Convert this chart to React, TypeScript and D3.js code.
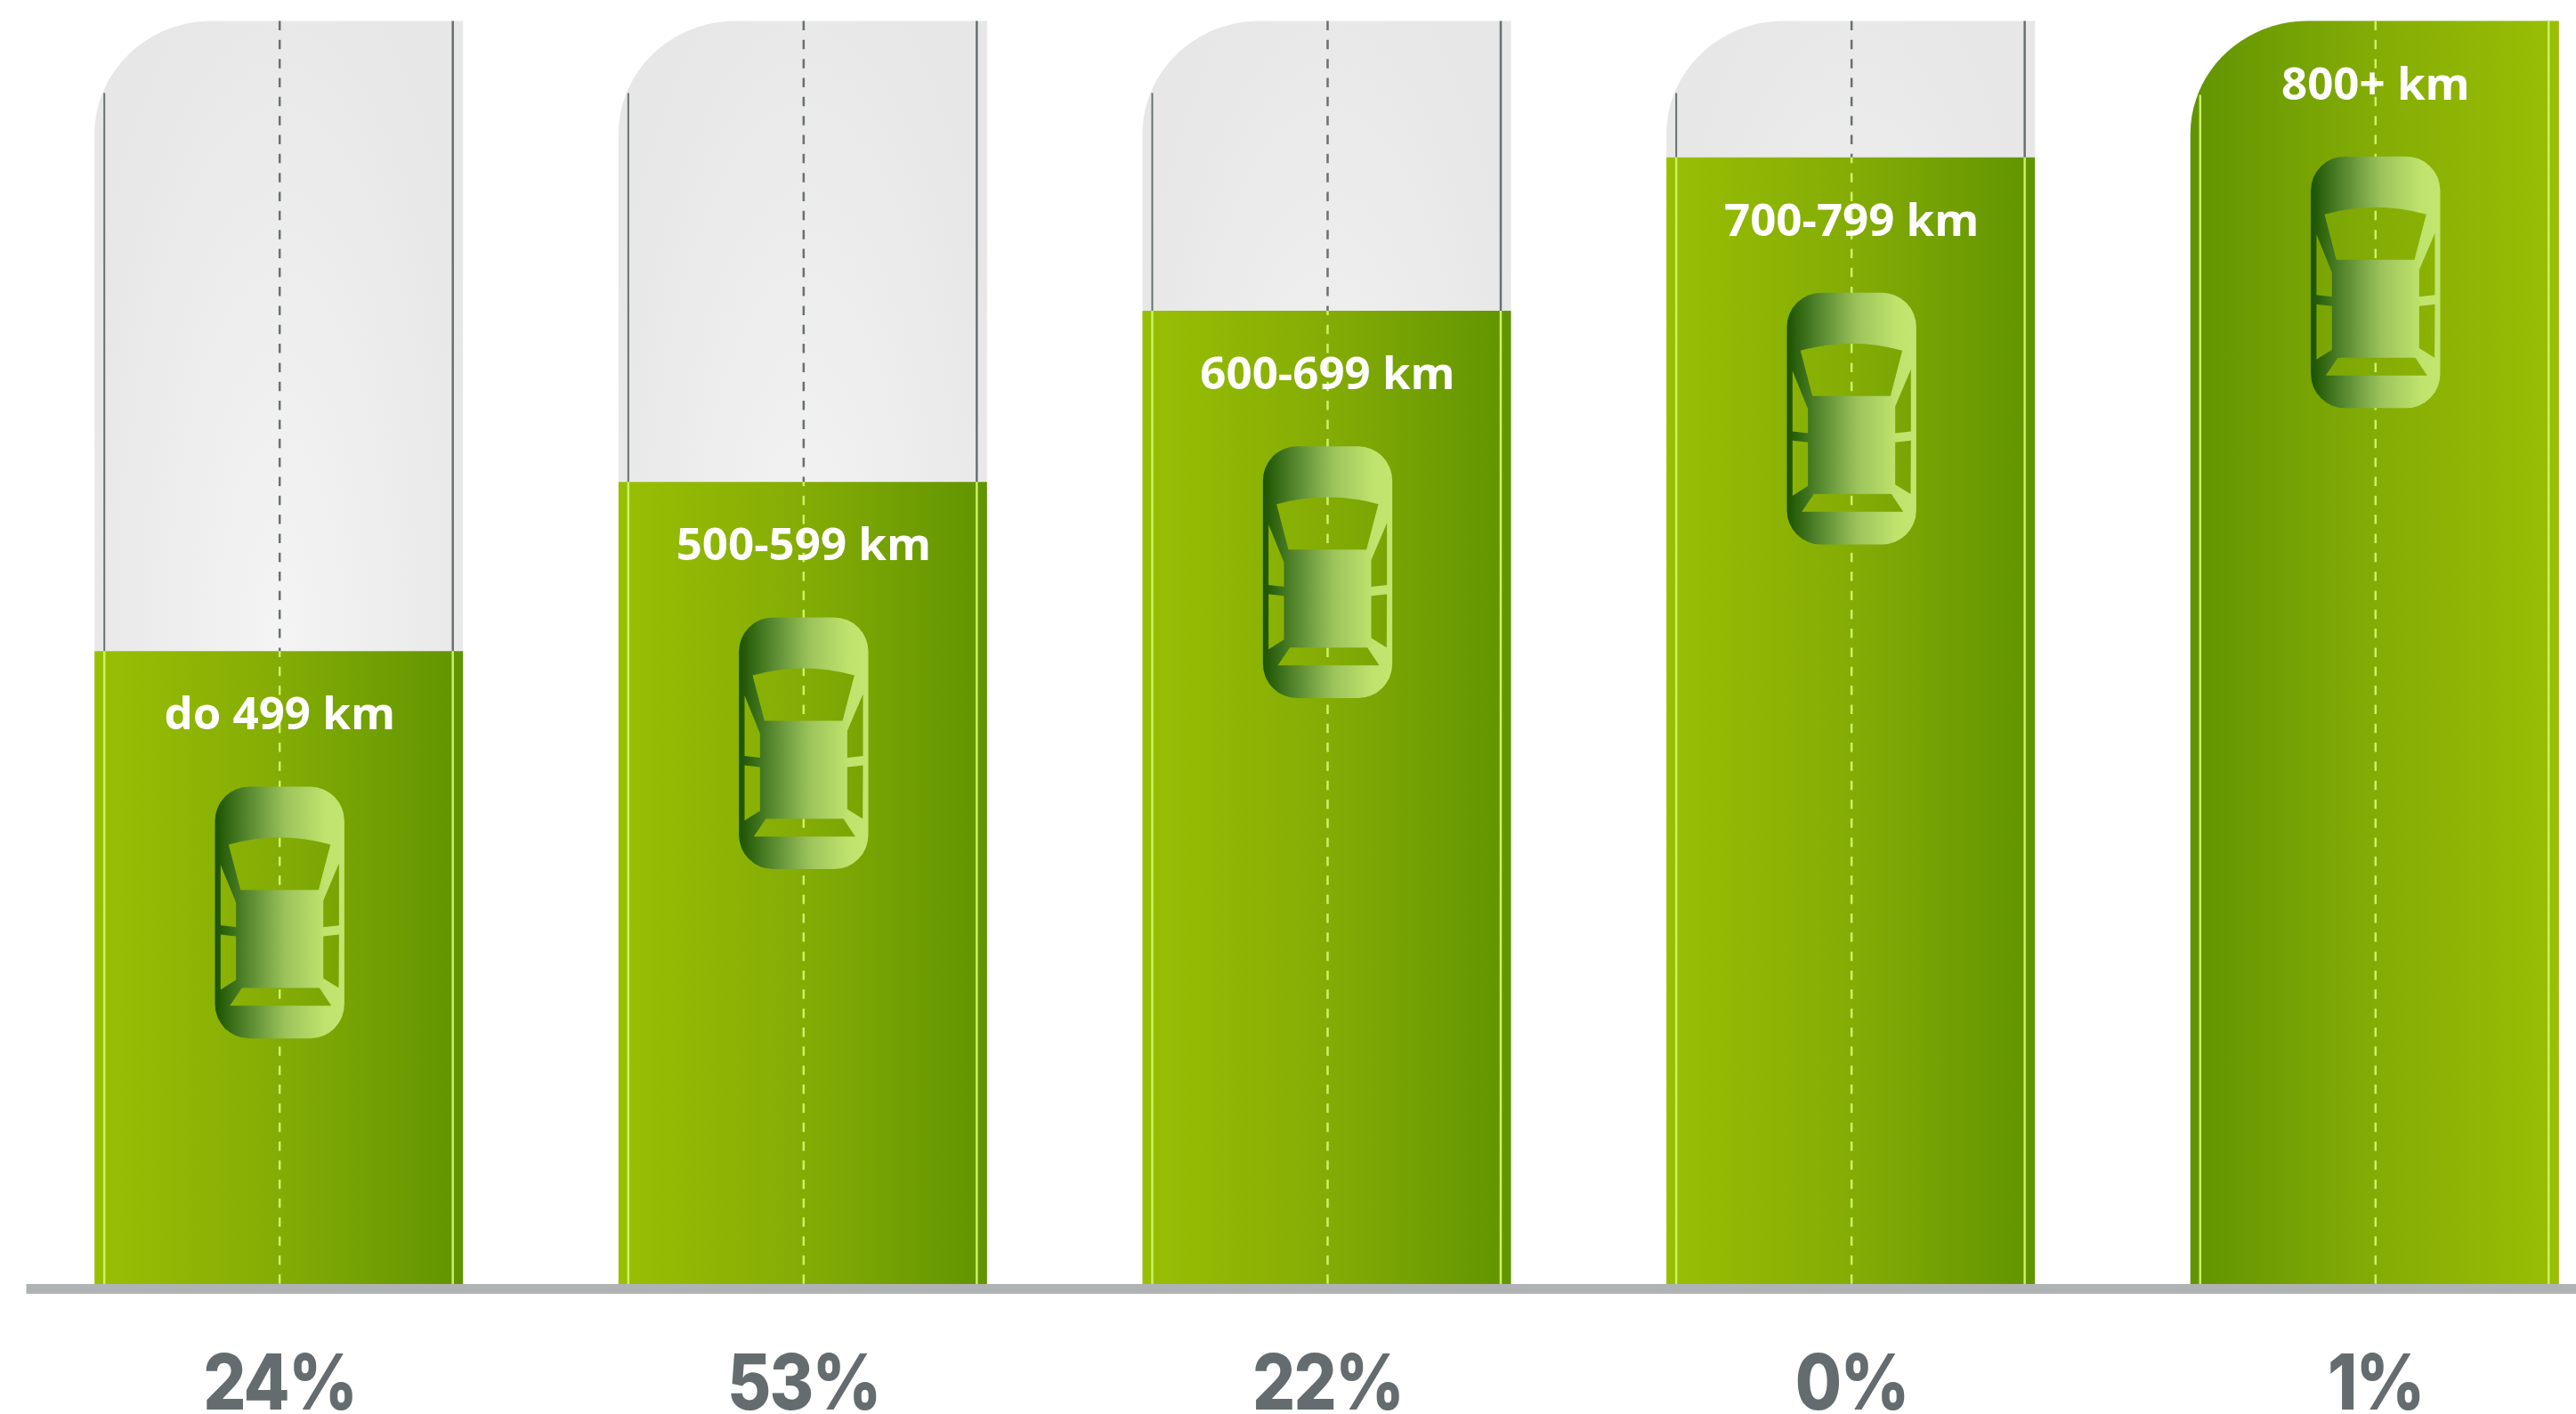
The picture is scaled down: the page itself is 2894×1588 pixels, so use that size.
import React from "react";
import * as d3 from "d3";

// Range bands of the chart, in reading order
const rangeLabels = ["do 499 km", "500-599 km", "600-699 km", "700-799 km", "800+ km"];
const shareLabels = ["24%", "53%", "22%", "0%", "1%"];
// How far each road is filled, on a 0-100 scale
const fillLevels = [50.1, 63.5, 77.05, 89.2, 100];
// The last road has its green gradient running the other way
const mirrored = [false, false, false, false, true];

const W = 2894, H = 1588;
const BASE_Y = 1442, TOP_Y = 23.5;
const HALF_L = 208, HALF_R = 206;

const x = d3.scalePoint<number>().domain(d3.range(5)).range([314.2, 2668.8]);
const y = d3.scaleLinear().domain([0, 100]).range([BASE_Y, TOP_Y]);

// Road silhouette with a single rounded upper-left corner
function roadPath(left: number, right: number, top: number, rounded: boolean) {
  const p = d3.path();
  if (rounded) {
    p.moveTo(left, BASE_Y);
    p.lineTo(left, top + 127);
    p.bezierCurveTo(left, top + 57, left + 59, top, left + 132, top);
  } else {
    p.moveTo(left, BASE_Y);
    p.lineTo(left, top);
  }
  p.lineTo(right, top);
  p.lineTo(right, BASE_Y);
  p.closePath();
  return p.toString();
}

// Car seen from above; body outline plus cut-out windows, drawn around its own centre (3x units)
const CAR_BODY =
  "M-218,-309 A115,115 0 0 1 -103,-424 L103,-424 A115,115 0 0 1 218,-309 L218,309 A115,115 0 0 1 103,424 L-103,424 A115,115 0 0 1 -218,309 Z";
const CAR_WINDOWS = [
  "M-172,-229 Q0,-277 171,-229 L131,-76 L-132,-76 Z",
  "M-199,-161 L-147,-33 L-147,49 L-199,43 Z",
  "M-199,74 L-147,80 L-147,227 L-199,260 Z",
  "M200,-166 L147,-41 L147,49 L200,43 Z",
  "M200,74 L147,80 L147,222 L199,254 Z",
  "M-127,254 L134,254 L174,314 L-168,314 Z",
].join(" ");

const STRIPE = "#c9f266";
const ROAD_LINE = "#687072";
const DASH_PERIOD = 21.33;

export default function App() {
  return (
    <svg
      width={W}
      height={H}
      viewBox={`0 0 ${W} ${H}`}
      style={{ position: "absolute", left: 0, top: 0, background: "#fff" }}
    >
      <defs>
        <linearGradient id="road-green" x1="0" x2="1" y1="0" y2="0">
          <stop offset="0" stopColor="#99bf03" />
          <stop offset="0.5" stopColor="#84ac05" />
          <stop offset="1" stopColor="#619401" />
        </linearGradient>
        <linearGradient id="road-green-rev" x1="0" x2="1" y1="0" y2="0">
          <stop offset="0" stopColor="#619401" />
          <stop offset="0.5" stopColor="#84ac05" />
          <stop offset="1" stopColor="#99bf03" />
        </linearGradient>
        <linearGradient id="car-body" x1="0" x2="1" y1="0" y2="0">
          <stop offset="0" stopColor="#1b5200" />
          <stop offset="0.27" stopColor="#5a8b32" />
          <stop offset="0.55" stopColor="#9dc45c" />
          <stop offset="0.85" stopColor="#bfe36d" />
          <stop offset="1" stopColor="#c2e56f" />
        </linearGradient>
        {fillLevels.map((_, i) => (
          <radialGradient
            key={i}
            id={`road-grey-${i}`}
            gradientUnits="userSpaceOnUse"
            cx={x(i)}
            cy={730}
            r={800}
            gradientTransform={`translate(${x(i)!} 0) scale(0.3 1) translate(${-x(i)!} 0)`}
          >
            <stop offset="0" stopColor="#f4f4f4" />
            <stop offset="1" stopColor="#e7e7e7" />
          </radialGradient>
        ))}
      </defs>

      {fillLevels.map((level, i) => {
        const cx = x(i)!;
        const left = cx - HALF_L;
        const right = cx + HALF_R;
        const top = y(level);
        const full = y(100);
        const isFull = level >= 100;
        const lineL = left + 11;
        const lineR = right - 11.5;
        const carY = top + 152 + 141.5;
        return (
          <g key={rangeLabels[i]}>
            <path d={roadPath(left, right, full, true)} fill={`url(#road-grey-${i})`} />
            {!isFull && (
              <>
                <line x1={lineL} x2={lineL} y1={full + 81} y2={top} stroke={ROAD_LINE} strokeWidth={2} />
                <line x1={lineR} x2={lineR} y1={full} y2={top} stroke={ROAD_LINE} strokeWidth={2.5} />
                <line
                  x1={cx}
                  x2={cx}
                  y1={full}
                  y2={top}
                  stroke={ROAD_LINE}
                  strokeWidth={2.5}
                  strokeDasharray={`10.5 ${DASH_PERIOD - 10.5}`}
                />
              </>
            )}
            <path
              d={roadPath(left, right, top, isFull)}
              fill={mirrored[i] ? "url(#road-green-rev)" : "url(#road-green)"}
            />
            <line x1={lineL} x2={lineL} y1={isFull ? top + 83 : top} y2={BASE_Y} stroke={STRIPE} strokeWidth={2.5} />
            <line x1={lineR} x2={lineR} y1={top} y2={BASE_Y} stroke={STRIPE} strokeWidth={2.5} />
            <line
              x1={cx}
              x2={cx}
              y1={top}
              y2={BASE_Y}
              stroke={STRIPE}
              strokeWidth={2.5}
              strokeDasharray={`10.5 ${DASH_PERIOD - 10.5}`}
              strokeDashoffset={(top - full) % DASH_PERIOD}
            />
            <path
              transform={`translate(${cx} ${carY}) scale(${1 / 3})`}
              d={`${CAR_BODY} ${CAR_WINDOWS}`}
              fill="url(#car-body)"
              fillRule="evenodd"
            />
            <text
              x={cx}
              y={top + 88}
              textAnchor="middle"
              fontFamily="Open Sans"
              fontWeight={700}
              fontSize={51}
              fill="#fff"
            >
              {rangeLabels[i]}
            </text>
            <text
              transform={`translate(${cx} 1583) scale(0.87 1)`}
              textAnchor="middle"
              fontFamily="Inter"
              fontWeight={800}
              fontSize={87}
              letterSpacing={-2}
              fill="#656c6f"
            >
              {shareLabels[i]}
            </text>
          </g>
        );
      })}

      <rect x={29.5} y={BASE_Y} width={W - 29.5} height={11} fill="#b0b3b4" />
    </svg>
  );
}
